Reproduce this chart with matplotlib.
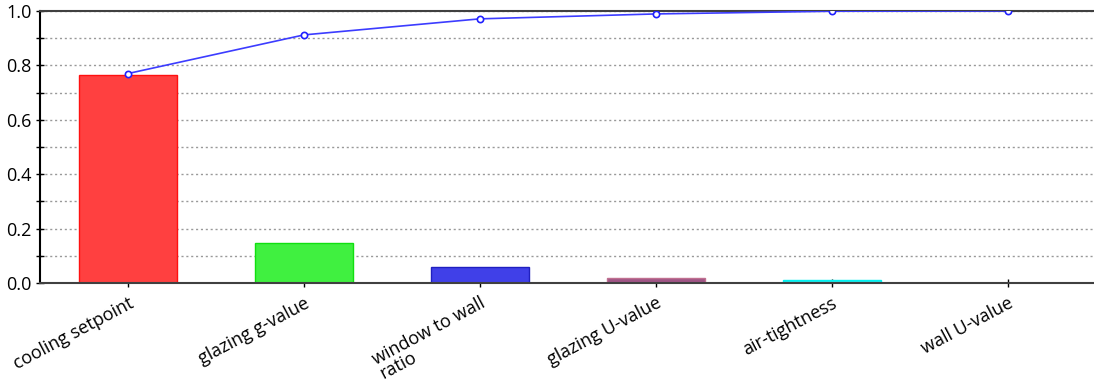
import numpy as np
import matplotlib.pyplot as plt
import matplotlib
import matplotlib.transforms as mtransforms
matplotlib.rcParams['font.family'] = ['Open Sans', 'DejaVu Sans']

# sensitivity of each design parameter
params = ['cooling setpoint', 'glazing g-value', 'window to wall\nratio',
          'glazing U-value', 'air-tightness', 'wall U-value']
share = [0.765, 0.147, 0.059, 0.018, 0.010, 0.001]
cumulative = [0.770, 0.912, 0.971, 0.989, 0.999, 1.0]

fill = ['#ff4040', '#40f040', '#4040e8', '#a05585', '#20e8e8', '#ffffff']
edge = ['#ff1010', '#10e010', '#2020c0', '#c07090', '#00f0f0', '#ffffff']

fig = plt.figure(figsize=(10.94, 3.91), dpi=100)
ax = fig.add_axes([0.0366, 0.276, 0.965, 0.696])

x = np.arange(len(params))
ax.bar(x, share, width=0.56, color=fill, edgecolor=edge, linewidth=1, zorder=2)
ax.plot(x, cumulative, color='#3c3cff', linewidth=1.2, marker='o', markersize=4.5,
        markerfacecolor='white', markeredgecolor='#2020ff', markeredgewidth=1.2, zorder=3)

ax.set_xlim(-0.5, 5.5)
ax.set_ylim(0, 1.0)
ax.set_yticks(np.arange(0, 1.01, 0.2))
ax.set_yticks(np.arange(0.1, 1.0, 0.2), minor=True)
ax.set_yticklabels(['0.0', '0.2', '0.4', '0.6', '0.8', '1.0'], fontsize=13)
ax.yaxis.grid(True, which='both', linestyle=(0, (1.5, 2)), color='#999999', linewidth=1, zorder=0)
ax.set_axisbelow(True)

ax.set_xticks(x)
ax.set_xticklabels(params, rotation=28, ha='right', rotation_mode='anchor',
                   fontsize=13, linespacing=0.85, multialignment='left')
shift = mtransforms.ScaledTranslation(8 / 100, 0, fig.dpi_scale_trans)
for lbl in ax.get_xticklabels():
    lbl.set_transform(lbl.get_transform() + shift)
ax.tick_params(axis='x', direction='inout', length=6, width=1, pad=5)
ax.tick_params(axis='y', which='both', direction='inout', length=6, width=1, pad=3)

for side in ['top', 'bottom']:
    ax.spines[side].set_color('#404040')
    ax.spines[side].set_linewidth(1.5)
ax.spines['left'].set_color('black')
ax.spines['left'].set_linewidth(1.5)
ax.spines['right'].set_visible(False)

fig.savefig('out.png', dpi=100)
